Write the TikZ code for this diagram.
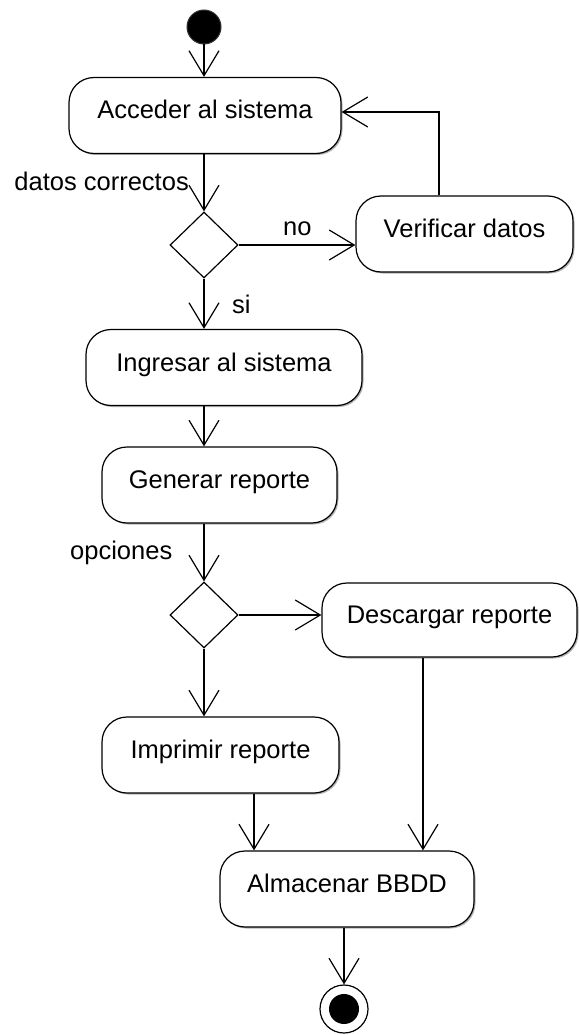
\documentclass[tikz,border=0pt]{standalone}
\usepackage{fontspec}
\setmainfont{Liberation Sans}
\usetikzlibrary{arrows.meta,shapes.geometric,shadows}
\begin{document}
\begin{tikzpicture}[x=1pt,y=-1pt,
  font=\fontsize{25.5}{30}\selectfont,
  act/.style={draw, line width=1.2pt, fill=white, rounded corners=25pt, inner sep=0pt,
    text height=18pt, text depth=11pt, minimum height=76pt,
    drop shadow={shadow xshift=1.5pt,shadow yshift=-1.5pt,fill=black!30,opacity=1}},
  dec/.style={draw, diamond, line width=1.2pt, fill=white, minimum width=68pt, minimum height=66pt, inner sep=0pt},
  arr/.style={line width=1.2pt, -{Straight Barb[length=25pt,width=30pt,line width=1.2pt]}},
  lbl/.style={inner sep=0pt}]
\useasboundingbox (0,0) rectangle (578,1035);

\node[circle, fill=black, draw=black!80, line width=1pt, minimum size=34pt, inner sep=0pt] (start) at (204,27) {};
\node[act, minimum width=272pt] (acc) at (205,115.5) {Acceder al sistema};
\node[dec] (d1) at (204,245) {};
\node[act, minimum width=217pt] (ver) at (464.5,234) {Verificar datos};
\node[act, minimum width=276pt] (ing) at (224,367.5) {Ingresar al sistema};
\node[act, minimum width=235pt] (gen) at (219.5,485) {Generar reporte};
\node[dec] (d2) at (204,615) {};
\node[act, minimum width=255pt, minimum height=74pt] (des) at (449.5,620) {Descargar reporte};
\node[act, minimum width=237pt] (imp) at (220.5,755) {Imprimir reporte};
\node[act, minimum width=254pt] (alm) at (347,889) {Almacenar BBDD};
\node[circle, draw, line width=1.2pt, fill=white, minimum size=48pt, inner sep=0pt] (fin) at (344,1009) {};
\node[circle, fill=black, minimum size=30pt, inner sep=0pt] (finin) at (fin) {};

\node[lbl, anchor=base east] (l1) at (189,190) {datos correctos};
\node[lbl, anchor=base west] (l2) at (283,235) {no};
\node[lbl, anchor=base west] (l3) at (232,313) {si};
\node[lbl, anchor=base west] (l4) at (70,559) {opciones};

\draw[arr] (start) -- (acc.north -| start);
\draw[arr] (acc.south -| d1) -- (d1.north);
\draw[arr] (d1.east) -- (d1.east -| ver.west);
\draw[arr] (d1.south) -- (d1.south |- ing.north);
\path ([xshift=-25.5pt]ver.north) coordinate (v1);
\draw[arr] (v1) |- ([yshift=3.5pt]acc.east);
\draw[arr] (ing.south -| d1) -- (gen.north -| d1);
\draw[arr] (gen.south -| d2) -- (d2.north);
\draw[arr] (d2.east) -- (d2.east -| des.west);
\draw[arr] (d2.south) -- (d2.south |- imp.north);
\path ([xshift=33.5pt]imp.south) coordinate (i1);
\draw[arr] (i1) -- (i1 |- alm.north);
\path ([xshift=-26.5pt]des.south) coordinate (s1);
\draw[arr] (s1) -- (s1 |- alm.north);
\draw[arr] (alm.south -| fin) -- (fin.north);
\end{tikzpicture}
\end{document}
